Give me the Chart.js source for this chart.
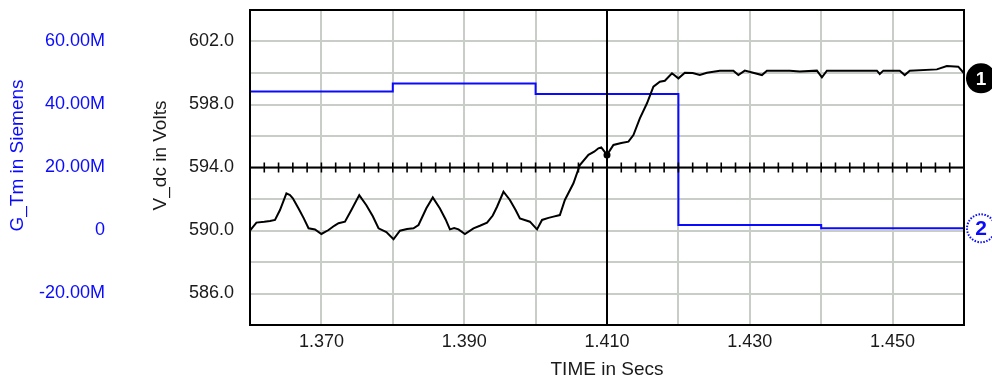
<!DOCTYPE html>
<html>
<head>
<meta charset="utf-8">
<script src="https://cdn.jsdelivr.net/npm/chart.js@4"></script>
<style>html,body{margin:0;padding:0;background:#fff}canvas{display:block}</style>
</head>
<body>
<canvas id="c" width="992" height="383"></canvas>
<script>
// ---- data ----
const timeV = [1.3600,1.3609,1.3620,1.3628,1.3635,1.3642,1.3651,1.3656,1.3660,1.3668,1.3675,1.3682,1.3691,1.3700,1.3710,1.3718,1.3724,1.3733,1.3742,1.3753,1.3763,1.3772,1.3780,1.3791,1.3801,1.3810,1.3820,1.3829,1.3836,1.3847,1.3856,1.3866,1.3874,1.3880,1.3886,1.3892,1.3901,1.3913,1.3922,1.3932,1.3940,1.3946,1.3955,1.3964,1.3972,1.3978,1.3992,1.4002,1.4009,1.4018,1.4025,1.4034,1.4041,1.4053,1.4062,1.4074,1.4082,1.4088,1.4092,1.4100,1.4109,1.4120,1.4130,1.4137,1.4146,1.4156,1.4165,1.4174,1.4181,1.4191,1.4200,1.4209,1.4220,1.4230,1.4240,1.4258,1.4277,1.4284,1.4293,1.4317,1.4324,1.4356,1.4370,1.4394,1.4401,1.4408,1.4440,1.4478,1.4482,1.4487,1.4510,1.4517,1.4524,1.4562,1.4576,1.4592,1.4600];
const vdc = [590.00,590.50,590.55,590.60,590.67,591.30,592.36,592.25,592.05,591.40,590.80,590.14,590.07,589.78,590.03,590.30,590.46,590.56,591.30,592.25,591.60,590.90,590.14,589.90,589.44,589.99,590.10,590.14,590.35,591.41,592.10,591.40,590.70,590.07,590.15,590.07,589.78,590.14,590.30,590.50,590.95,591.51,592.46,591.94,591.30,590.77,590.56,590.07,590.67,590.80,590.88,590.98,591.94,593.00,594.16,594.80,595.00,595.22,595.28,594.80,595.43,595.55,595.64,596.06,597.12,598.08,599.13,599.45,599.51,599.98,599.66,600.02,600.00,599.87,600.02,600.15,600.15,599.87,600.15,599.87,600.15,600.15,600.10,600.15,599.72,600.15,600.15,600.15,599.94,600.15,600.15,599.87,600.15,600.23,600.44,600.40,599.98];

const timeG = [1.36, 1.38, 1.40, 1.42, 1.44, 1.46];
const gtm   = [44.1e6, 46.7e6, 43.3e6, 1.75e6, 0.7e6, 0.7e6];

const xGridValues  = [1.37,1.38,1.39,1.40,1.41,1.42,1.43,1.44,1.45];
const xLabelValues = [1.37,1.39,1.41,1.43,1.45];
const xTickLabels  = ['1.370','1.390','1.410','1.430','1.450'];

const vGridValues  = [586,588,590,592,594,596,598,600,602];
const vLabelValues = [586,590,594,598,602];
const vTickLabels  = ['586.0','590.0','594.0','598.0','602.0'];

const gTickValues  = [-20e6, 0, 20e6, 40e6, 60e6];
const gTickLabels  = ['-20.00M','0','20.00M','40.00M','60.00M'];

const cursorTime = 1.41;
const cursorLevel = 594;
const cursorTickStep = 0.002;

// ---- styling ----
const FONT = '"Liberation Sans", Arial, sans-serif';
const BLUE = '#0a0aff';
const DARK = '#1a1a1a';
const GRID = 'rgb(200,205,200)';

function findLabel(values, labels, v){
  for (let i=0;i<values.length;i++){ if (Math.abs(values[i]-v) < 1e-9*Math.max(1,Math.abs(v))) return labels[i]; }
  return '';
}
function noPad(s){ s.paddingTop = 0; s.paddingBottom = 0; s.paddingLeft = 0; s.paddingRight = 0; }

const overlay = {
  id: 'overlay',
  afterDatasetsDraw(chart){
    const {ctx, chartArea:a, scales} = chart;
    const x = scales.x, yV = scales.yV, yG = scales.yG;
    ctx.save();
    // cursor cross
    ctx.strokeStyle = '#000';
    ctx.lineWidth = 2;
    const cx = x.getPixelForValue(cursorTime);
    const cy = yV.getPixelForValue(cursorLevel);
    ctx.beginPath();
    ctx.moveTo(cx, a.top); ctx.lineTo(cx, a.bottom);
    ctx.moveTo(a.left, cy); ctx.lineTo(a.right, cy);
    ctx.stroke();
    ctx.lineWidth = 1.6;
    ctx.beginPath();
    const k0 = Math.ceil(x.min/cursorTickStep + 1e-6), k1 = Math.floor(x.max/cursorTickStep - 1e-6);
    for (let k=k0;k<=k1;k++){
      const px = x.getPixelForValue(k*cursorTickStep);
      ctx.moveTo(px, cy-5); ctx.lineTo(px, cy+5);
    }
    ctx.stroke();
    // cursor dot on V_dc
    let idx = 0; let best = 1;
    for (let i=0;i<timeV.length;i++){ const d=Math.abs(timeV[i]-cursorTime); if(d<best){best=d;idx=i;} }
    ctx.fillStyle = '#000';
    ctx.beginPath();
    ctx.arc(cx, yV.getPixelForValue(vdc[idx]), 3.5, 0, Math.PI*2);
    ctx.fill();
    // frame
    ctx.lineWidth = 2;
    ctx.strokeStyle = '#000';
    ctx.strokeRect(a.left, a.top, a.right-a.left, a.bottom-a.top);
    // trace markers
    const mx = a.right + 17;
    const m1y = yV.getPixelForValue(vdc[vdc.length-1]) + 5;
    ctx.fillStyle = '#000';
    ctx.beginPath(); ctx.arc(mx, m1y, 15, 0, Math.PI*2); ctx.fill();
    ctx.fillStyle = '#fff';
    ctx.font = 'bold 19px ' + FONT;
    ctx.textAlign = 'center'; ctx.textBaseline = 'middle';
    ctx.fillText('1', mx, m1y+1);
    const m2y = yG.getPixelForValue(gtm[gtm.length-1]);
    ctx.fillStyle = '#fff';
    ctx.beginPath(); ctx.arc(mx, m2y, 14, 0, Math.PI*2); ctx.fill();
    ctx.setLineDash([1.5,1.5]);
    ctx.strokeStyle = BLUE; ctx.lineWidth = 2;
    ctx.stroke();
    ctx.setLineDash([]);
    ctx.fillStyle = BLUE;
    ctx.font = 'bold 21px ' + FONT;
    ctx.fillText('2', mx, m2y+1);
    ctx.restore();
  },
  afterDraw(chart){
    const {ctx, chartArea:a, scales} = chart;
    const midY = (a.top + a.bottom)/2 - 12;
    ctx.save();
    ctx.font = '19px ' + FONT;
    ctx.textAlign = 'center'; ctx.textBaseline = 'middle';
    ctx.fillStyle = DARK;
    ctx.translate(scales.yV.left + 31, midY);
    ctx.rotate(-Math.PI/2);
    ctx.fillText('V_dc in Volts', 0, 0);
    ctx.restore();
    ctx.save();
    ctx.font = '19px ' + FONT;
    ctx.textAlign = 'center'; ctx.textBaseline = 'middle';
    ctx.fillStyle = BLUE;
    ctx.translate(scales.yG.left + 18, midY);
    ctx.rotate(-Math.PI/2);
    ctx.fillText('G_Tm in Siemens', 0, 0);
    ctx.restore();
  }
};

new Chart(document.getElementById('c'), {
  type: 'line',
  data: {
    datasets: [
      {
        label: 'V_dc',
        data: timeV.map((t,i)=>({x:t, y:vdc[i]})),
        yAxisID: 'yV',
        borderColor: '#000',
        borderWidth: 2,
        pointRadius: 0,
        tension: 0,
        fill: false
      },
      {
        label: 'G_Tm',
        data: timeG.map((t,i)=>({x:t, y:gtm[i]})),
        yAxisID: 'yG',
        borderColor: BLUE,
        borderWidth: 2,
        pointRadius: 0,
        stepped: 'before',
        fill: false
      }
    ]
  },
  options: {
    responsive: false,
    animation: false,
    devicePixelRatio: 1,
    layout: { padding: { top: 10, right: 28, left: 0, bottom: 0 } },
    plugins: { legend: { display: false }, tooltip: { enabled: false } },
    scales: {
      x: {
        type: 'linear', min: 1.36, max: 1.46,
        afterBuildTicks: s => { s.ticks = xGridValues.map(v => ({value: v})); },
        afterFit: s => { s.height = 58; noPad(s); },
        grid: { color: GRID, lineWidth: 2, drawTicks: false },
        border: { color: '#000', width: 2 },
        ticks: {
          autoSkip: false, maxRotation: 0, padding: 6, color: DARK,
          font: { family: FONT, size: 18 },
          callback: v => findLabel(xLabelValues, xTickLabels, v)
        },
        title: { display: true, text: 'TIME in Secs', color: DARK, font: { family: FONT, size: 19 }, padding: { top: 0, bottom: 2 } }
      },
      yV: {
        type: 'linear', position: 'left', weight: 0, min: 584, max: 604,
        afterBuildTicks: s => { s.ticks = vGridValues.map(v => ({value: v})); },
        afterFit: s => { s.width = 120; noPad(s); },
        grid: { color: GRID, lineWidth: 2, drawTicks: false },
        border: { color: '#000', width: 2 },
        ticks: {
          autoSkip: false, padding: 16, color: DARK,
          font: { family: FONT, size: 18 },
          callback: v => findLabel(vLabelValues, vTickLabels, v)
        }
      },
      yG: {
        type: 'linear', position: 'left', weight: 1, min: -30e6, max: 70e6,
        afterBuildTicks: s => { s.ticks = gTickValues.map(v => ({value: v})); },
        afterFit: s => { s.width = 130; noPad(s); },
        grid: { display: false, drawTicks: false },
        border: { display: false },
        ticks: {
          autoSkip: false, padding: 25, color: BLUE,
          font: { family: FONT, size: 18 },
          callback: v => findLabel(gTickValues, gTickLabels, v)
        }
      }
    }
  },
  plugins: [overlay]
});
</script>
</body>
</html>
